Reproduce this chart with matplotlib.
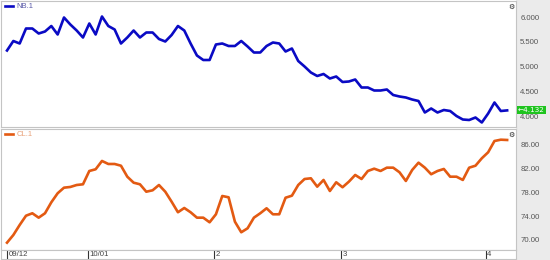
import matplotlib
matplotlib.use("Agg")
import matplotlib.pyplot as plt
import matplotlib.transforms as mtransforms
import numpy as np

# ---- data ----
nb_values = [5.33, 5.52, 5.47, 5.77, 5.77, 5.67, 5.71, 5.82, 5.65, 5.99,
             5.85, 5.73, 5.59, 5.87, 5.65, 6.01, 5.82, 5.75, 5.47, 5.59,
             5.73, 5.59, 5.69, 5.69, 5.56, 5.51, 5.64, 5.82, 5.73, 5.47,
             5.23, 5.14, 5.14, 5.45, 5.47, 5.42, 5.42, 5.52, 5.41, 5.29,
             5.29, 5.42, 5.49, 5.47, 5.31, 5.37, 5.12, 5.01, 4.89, 4.82,
             4.86, 4.77, 4.81, 4.70, 4.71, 4.75, 4.59, 4.59, 4.53, 4.53,
             4.55, 4.44, 4.41, 4.39, 4.35, 4.32, 4.09, 4.17, 4.09, 4.14,
             4.12, 4.02, 3.95, 3.94, 3.99, 3.89, 4.07, 4.29, 4.12, 4.132]
cl_values = [69.55, 70.84, 72.53, 74.09, 74.50, 73.76, 74.50, 76.35, 77.87, 78.81,
             78.93, 79.26, 79.38, 81.62, 81.91, 83.31, 82.80, 82.80, 82.51, 80.66,
             79.65, 79.38, 78.13, 78.37, 79.26, 78.13, 76.45, 74.67, 75.39, 74.67,
             73.76, 73.76, 72.98, 74.33, 77.41, 77.19, 73.08, 71.30, 71.97, 73.76,
             74.50, 75.34, 74.33, 74.33, 77.12, 77.46, 79.26, 80.27, 80.39, 78.98,
             80.11, 78.25, 79.72, 78.88, 79.82, 80.95, 80.27, 81.62, 82.01, 81.62,
             82.18, 82.18, 81.40, 79.94, 81.79, 83.02, 82.18, 81.07, 81.62, 81.96,
             80.66, 80.66, 80.11, 82.18, 82.51, 83.76, 84.77, 86.67, 86.89, 86.84]
series_names = ["NB.1", "CL.1"]
date_tick_labels = ["09/12", "10/01", "2", "3", "4"]
date_tick_index = [0.0, 12.75, 32.75, 52.75, 75.6]
nb_ticks = [4.0, 4.5, 5.0, 5.5, 6.0]
cl_ticks = [70.0, 74.0, 78.0, 82.0, 86.0]

x = np.arange(len(nb_values))

W, H = 550, 260
def rect(x0, y0, x1, y1):
    return [x0 / W, 1 - y1 / H, (x1 - x0) / W, (y1 - y0) / H]

plt.rcParams['font.family'] = ['Liberation Sans', 'DejaVu Sans']
fig = plt.figure(figsize=(5.5, 2.6), dpi=100)
fig.patch.set_facecolor('white')

bg = fig.add_axes(rect(516, 0, 550, 260), zorder=-5)
bg.set_facecolor('#ebebeb')
bg.set_xticks([]); bg.set_yticks([])
for s in bg.spines.values():
    s.set_visible(False)

ax1 = fig.add_axes(rect(1, 1, 516, 127))
ax2 = fig.add_axes(rect(1, 129, 516, 249.5), sharex=ax1)
axs = fig.add_axes(rect(1, 250, 516, 259), sharex=ax2)

blue = '#0a0ac4'
orange = '#e35a12'
spine_c = '#c4c4c4'

ax1.plot(x, nb_values, color=blue, lw=1.9, solid_joinstyle='round', label=series_names[0])
ax2.plot(x, cl_values, color=orange, lw=1.9, solid_joinstyle='round', label=series_names[1])

ax1.set_xlim(-0.95, 80.4)
ax1.set_ylim(3.80, 6.32)
ax2.set_ylim(68.40, 88.69)

for ax, ticks, fmt in ((ax1, nb_ticks, '{:.3f}'), (ax2, cl_ticks, '{:.2f}')):
    ax.yaxis.tick_right()
    ax.set_yticks(ticks)
    ax.set_yticklabels([fmt.format(t) for t in ticks])
    ax.tick_params(axis='y', length=0, pad=3, labelsize=5.6, labelcolor='#555555')
    ax.tick_params(axis='x', bottom=False, labelbottom=False)
    for s in ax.spines.values():
        s.set_color(spine_c); s.set_linewidth(0.8)
    ax.text(0.992, 0.955, '\u2699', transform=ax.transAxes, fontsize=5,
            ha='center', va='center', color='#222222', family='DejaVu Sans')

leg_colors = ['#5a5aa8', '#e8a27a']
for ax, lc in ((ax1, leg_colors[0]), (ax2, leg_colors[1])):
    leg = ax.legend(loc='upper left', bbox_to_anchor=(0.005, 1.0), frameon=False,
                    fontsize=5.5, handlelength=1.0, handletextpad=0.4,
                    borderaxespad=0.0, borderpad=0.25, labelcolor=lc)

# last value tag
trans = mtransforms.blended_transform_factory(ax1.transAxes, ax1.transData)
ax1.text(1.004, nb_values[-1], '\u2190' + '{:.3f}'.format(nb_values[-1]), transform=trans,
         ha='left', va='center', fontsize=5.2, color='white', family=['DejaVu Sans'],
         bbox=dict(boxstyle='square,pad=0.15', fc='#1fc41f', ec='none'), clip_on=False)

# date strip
axs.set_ylim(0, 1)
axs.set_yticks([])
axs.tick_params(axis='x', bottom=False, labelbottom=False)
for s in axs.spines.values():
    s.set_color(spine_c); s.set_linewidth(0.8)
for pos, lab in zip(date_tick_index, date_tick_labels):
    axs.axvline(pos, color='#333333', lw=0.8)
    axs.text(pos + 0.25, 0.45, lab, fontsize=5.6, color='#444444', ha='left', va='center')

fig.savefig('out.png', dpi=100, facecolor='white')
